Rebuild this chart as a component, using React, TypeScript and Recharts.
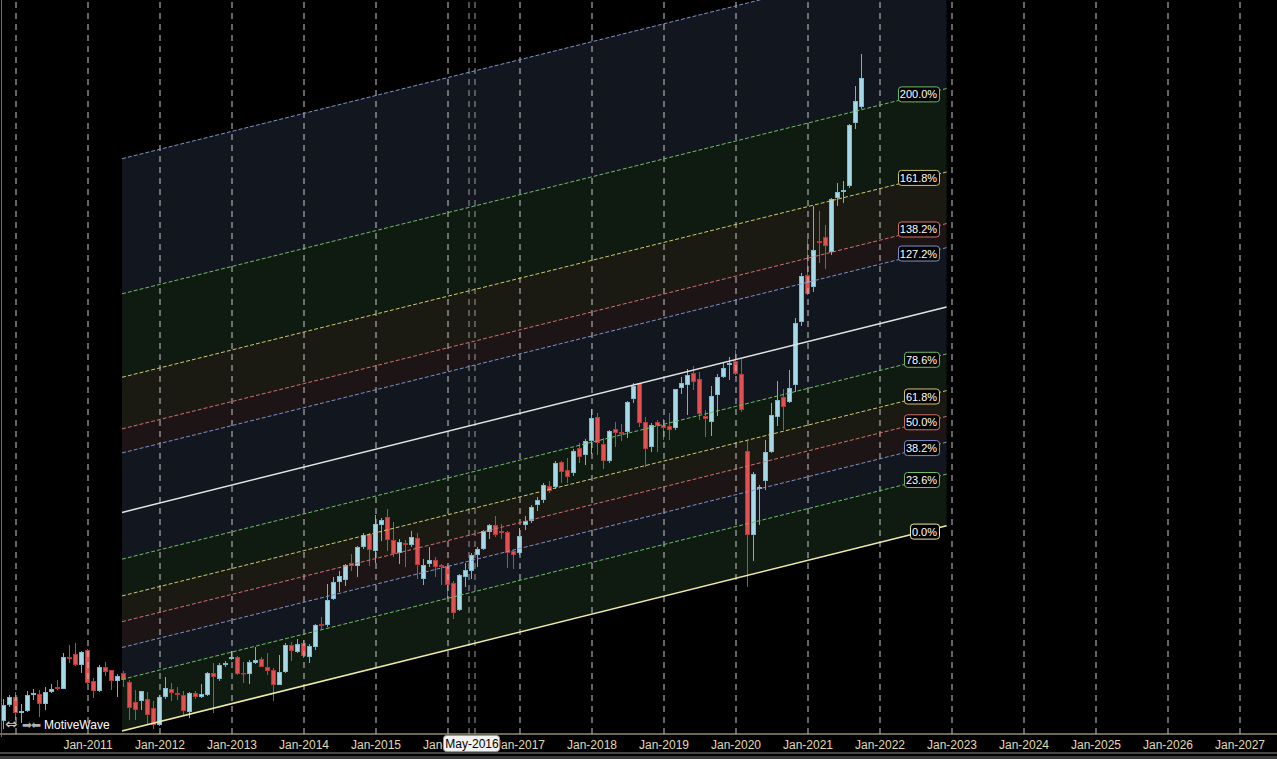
import React from "react";
import { ComposedChart, Bar, Area, XAxis, YAxis, ReferenceLine, ReferenceDot } from "recharts";

// Month index: 0 = Jan-2010, one unit per month. First candle = Nov-2009.
const FIRST_MONTH = -2;

const opens = [
  13, 29,
  37, 21, 23, 39, 40, 30, 42, 47, 45, 77, 80, 69,
  84, 53, 43, 67, 64, 53, 61, 52, 32, 33, 35, 26,
  9, 37, 45, 41, 39, 22, 41, 37, 39, 61, 55, 69,
  75, 77, 61, 60, 71, 75, 67, 64, 49, 62, 89, 82,
  91, 77, 87, 110, 109, 135, 152, 154, 171, 168, 187, 200,
  183, 209, 217, 194, 181, 191, 189, 196, 155, 170, 174, 169,
  168, 151, 124, 157, 163, 179, 185, 202, 209, 203, 202, 183,
  181, 209, 213, 229, 234, 248, 247, 272, 264, 261, 286, 279,
  293, 317, 290, 273, 305, 302, 302, 335, 351, 312, 287, 312,
  309, 308, 306, 346, 349, 361, 355, 318, 312, 339, 357, 369,
  373, 360, 283, 199, 245, 253, 282, 317, 337, 332, 349, 412,
  459, 447, 493, 497, 482, 536, 542, 548, 611, 627,
];
const highs = [
  35, 39,
  42, 30, 43, 45, 44, 47, 50, 54, 81, 89, 91, 83,
  85, 56, 69, 72, 64, 60, 63, 54, 44, 43, 42, 33,
  39, 57, 51, 47, 43, 42, 43, 50, 62, 71, 71, 73,
  83, 78, 72, 74, 87, 77, 81, 66, 79, 91, 92, 95,
  94, 90, 110, 117, 150, 157, 163, 170, 180, 188, 201, 201,
  219, 216, 225, 212, 195, 194, 203, 201, 175, 187, 177, 170,
  169, 153, 160, 171, 181, 187, 204, 210, 218, 210, 203, 184,
  206, 218, 229, 237, 251, 253, 273, 273, 276, 285, 291, 295,
  325, 321, 296, 304, 312, 310, 333, 351, 351, 317, 311, 314,
  315, 321, 345, 357, 365, 368, 362, 324, 348, 360, 372, 377,
  384, 375, 293, 262, 249, 294, 331, 353, 345, 364, 416, 461,
  495, 528, 523, 509, 536, 551, 553, 610, 648, 680,
];
const lows = [
  5, 27,
  14, 11, 22, 34, 17, 24, 41, 44, 45, 71, 68, 61,
  50, 36, 42, 58, 44, 37, 47, 14, 14, 24, 10, 5,
  8, 35, 33, 34, 19, 16, 35, 36, 38, 21, 53, 67,
  74, 59, 51, 50, 70, 67, 59, 33, 49, 61, 73, 81,
  76, 71, 84, 105, 107, 134, 142, 148, 163, 157, 185, 168,
  171, 193, 183, 177, 170, 167, 187, 155, 149, 167, 157, 149,
  135, 115, 123, 147, 155, 167, 184, 195, 197, 195, 166, 165,
  179, 204, 211, 223, 231, 241, 245, 251, 251, 258, 271, 269,
  280, 279, 265, 271, 287, 293, 296, 331, 307, 267, 282, 282,
  294, 294, 304, 340, 319, 344, 314, 297, 298, 318, 356, 354,
  359, 322, 147, 173, 209, 244, 281, 308, 304, 331, 342, 408,
  439, 442, 471, 465, 479, 528, 531, 546, 605, 625,
];
const closes = [
  29, 37,
  21, 23, 39, 41, 30, 42, 45, 45, 77, 75, 69, 82,
  51, 43, 67, 62, 53, 58, 54, 26, 24, 43, 19, 9,
  37, 46, 41, 39, 23, 41, 37, 40, 61, 57, 69, 71,
  77, 60, 60, 72, 74, 67, 63, 49, 62, 89, 83, 90,
  78, 88, 109, 108, 134, 152, 158, 169, 168, 187, 199, 184,
  210, 214, 194, 180, 192, 189, 197, 169, 169, 174, 167, 167,
  149, 121, 159, 164, 179, 185, 203, 209, 199, 201, 181, 179,
  198, 213, 227, 234, 249, 243, 271, 262, 257, 283, 277, 293,
  316, 291, 273, 303, 301, 300, 332, 348, 311, 285, 309, 308,
  306, 304, 345, 351, 359, 352, 320, 315, 338, 357, 366, 371,
  360, 324, 199, 260, 247, 282, 319, 334, 327, 346, 411, 458,
  440, 484, 491, 488, 535, 542, 544, 609, 633, 656,
];

// X axis
const gridMonths = [0, 12, 24, 36, 48, 60, 72, 84, 96, 108, 120, 132, 144, 156, 168, 180, 192, 204];
const tickMonths = [12, 24, 36, 48, 60, 72, 84, 96, 108, 120, 132, 144, 156, 168, 180, 192, 204];
const tickLabels = [
  "Jan-2011", "Jan-2012", "Jan-2013", "Jan-2014", "Jan-2015", "Jan-2016", "Jan-2017", "Jan-2018",
  "Jan-2019", "Jan-2020", "Jan-2021", "Jan-2022", "Jan-2023", "Jan-2024", "Jan-2025", "Jan-2026", "Jan-2027",
];
const crosshairMonth = 76;
const crosshairLabel = "May-2016";
const crosshairLines = [75.5, 76.5];

// Fibonacci channel
const channelStartMonth = 17.67;
const channelEndMonth = 155.1;
const baseStart = 3;
const baseEnd = 208.3;
const channelHeight = 218.6;
const fibLevels = [0, 0.236, 0.382, 0.5, 0.618, 0.786, 1, 1.272, 1.382, 1.618, 2, 2.618];
const fibLabels = ["0.0%", "23.6%", "38.2%", "50.0%", "61.8%", "78.6%", "", "127.2%", "138.2%", "161.8%", "200.0%", ""];
const labelMonth = 153.83;

const GREEN = "#6fbf64";
const BLUE = "#7d93cc";
const RED = "#d6706e";
const YELLOW = "#d2c86e";
const levelColors = ["#f1eba8", GREEN, BLUE, RED, YELLOW, GREEN, "#e4e4e4", BLUE, RED, YELLOW, GREEN, BLUE];
const levelSolid = [true, false, false, false, false, false, true, false, false, false, false, false];
const F_GREEN = "#0f1a11";
const F_BLUE = "#12161e";
const F_RED = "#1d1415";
const F_YELLOW = "#1a1912";
const bandColors = [F_GREEN, F_BLUE, F_RED, F_YELLOW, F_GREEN, F_BLUE, F_BLUE, F_RED, F_YELLOW, F_GREEN, F_BLUE];

const X_MIN = -16 / 6;
const X_MAX = (1277 - 16) / 6;

const UP_FILL = "#a6d9e8";
const UP_EDGE = "#78bcd6";
const UP_WICK = "#5cb8ea";
const DN_FILL = "#e44f4f";
const DN_EDGE = "#c23434";
const DN_WICK = "#ff2b2b";

const candles = opens.map((o, i) => ({
  m: FIRST_MONTH + i,
  open: o,
  high: highs[i],
  low: lows[i],
  close: closes[i],
}));

const baseAt = (m: number) =>
  baseStart + ((m - channelStartMonth) * (baseEnd - baseStart)) / (channelEndMonth - channelStartMonth);
const levelAt = (m: number, lvl: number) => baseAt(m) + lvl * channelHeight;

const bands = fibLevels.slice(0, -1).map((lvl, i) => ({
  color: bandColors[i],
  data: [
    { m: channelStartMonth, band: [levelAt(channelStartMonth, lvl), levelAt(channelStartMonth, fibLevels[i + 1])] },
    { m: channelEndMonth, band: [levelAt(channelEndMonth, lvl), levelAt(channelEndMonth, fibLevels[i + 1])] },
  ],
}));

const FONT = "'Liberation Sans', Arial, sans-serif";

const Candle = (props: any) => {
  const { x, y, width, height, payload } = props;
  if (x == null || y == null || !payload) return null;
  const top = Math.min(y, y + height);
  const h = Math.abs(height);
  const { open, close, high, low } = payload;
  const range = high - low;
  const toPx = (v: number) => (range === 0 ? top : top + ((high - v) / range) * h);
  const cx = Math.floor(x + width / 2);
  const up = close >= open;
  const bTop = toPx(Math.max(open, close));
  const bBot = toPx(Math.min(open, close));
  const bh = Math.max(1, bBot - bTop);
  return (
    <g>
      <rect x={cx} y={top} width={1} height={Math.max(1, h)} fill={up ? UP_WICK : DN_WICK} />
      <rect
        x={cx - 1.5}
        y={bTop + 0.5}
        width={4}
        height={Math.max(0.5, bh - 1)}
        fill={up ? UP_FILL : DN_FILL}
        stroke={up ? UP_EDGE : DN_EDGE}
        strokeWidth={1}
      />
    </g>
  );
};

const LevelTag = (props: any) => {
  const { cx, cy, text, color } = props;
  if (cx == null || cy == null) return null;
  const w = text.length * 6 + 5;
  return (
    <g>
      <rect x={cx - w + 0.5} y={cy - 3.5} width={w} height={15} rx={3} ry={3} fill="#000" stroke={color} strokeWidth={1} />
      <text x={cx - w / 2} y={cy + 8} textAnchor="middle" fill="#ffffff" fontSize={11} fontFamily={FONT}>
        {text}
      </text>
    </g>
  );
};

const AxisTick = (props: any) => {
  const { x, y, payload } = props;
  const v = payload?.value;
  if (v === crosshairMonth) {
    return (
      <g>
        <rect x={x - 28.5} y={y + 1.5} width={56} height={16} rx={3} ry={3} fill="#f2f2f2" stroke="#9a9a9a" />
        <text x={x} y={y + 14} textAnchor="middle" fill="#000" fontSize={12} fontFamily={FONT}>
          {crosshairLabel}
        </text>
      </g>
    );
  }
  const i = tickMonths.indexOf(v);
  if (i < 0) return null;
  return (
    <text x={x} y={y + 15} textAnchor="middle" fill="#e2dab2" fontSize={12} fontFamily={FONT}>
      {tickLabels[i]}
    </text>
  );
};

export default function App() {
  return (
    <div style={{ position: "fixed", left: 0, top: 0, width: 1277, height: 759, background: "#000", overflow: "hidden" }}>
      <ComposedChart width={1277} height={756} data={candles} margin={{ top: 0, right: 0, bottom: 0, left: 0 }}>
        <XAxis
          xAxisId="main"
          dataKey="m"
          type="number"
          domain={[X_MIN, X_MAX]}
          allowDataOverflow
          ticks={gridMonths}
          tick={false}
          tickLine={false}
          axisLine={{ stroke: "#8c8c84" }}
          height={3}
        />
        <XAxis
          xAxisId="lab"
          dataKey="m"
          type="number"
          domain={[X_MIN, X_MAX]}
          allowDataOverflow
          ticks={[...tickMonths, crosshairMonth]}
          interval={0}
          tick={<AxisTick />}
          tickLine={false}
          tickSize={0}
          tickMargin={0}
          axisLine={{ stroke: "#d8d0ac" }}
          height={19}
        />
        <YAxis hide domain={[0, 734]} allowDataOverflow type="number" />

        {bands.map((b, i) => (
          <Area
            key={"band" + i}
            xAxisId="main"
            data={b.data}
            dataKey="band"
            type="linear"
            stroke="none"
            fill={b.color}
            fillOpacity={1}
            dot={false}
            activeDot={false}
            isAnimationActive={false}
          />
        ))}

        {gridMonths.map((m) => (
          <ReferenceLine key={"g" + m} xAxisId="main" x={m} stroke="#c8c8c8" strokeDasharray="6 5" strokeWidth={1} />
        ))}
        {crosshairLines.map((m) => (
          <ReferenceLine key={"c" + m} xAxisId="main" x={m} stroke="#9a9a9a" strokeDasharray="6 5" strokeWidth={1} />
        ))}

        {fibLevels.map((lvl, i) => (
          <ReferenceLine
            key={"l" + i}
            xAxisId="main"
            ifOverflow="hidden"
            segment={[
              { x: channelStartMonth, y: levelAt(channelStartMonth, lvl) },
              { x: channelEndMonth, y: levelAt(channelEndMonth, lvl) },
            ]}
            stroke={levelColors[i]}
            strokeWidth={levelSolid[i] ? 1.5 : 1}
            strokeDasharray={levelSolid[i] ? undefined : "4 2"}
          />
        ))}

        <Bar
          xAxisId="main"
          dataKey={(d: any) => [d.low, d.high]}
          barSize={5}
          shape={<Candle />}
          isAnimationActive={false}
        />

        {fibLevels.map((lvl, i) =>
          fibLabels[i] ? (
            <ReferenceDot
              key={"t" + i}
              xAxisId="main"
              x={labelMonth}
              y={levelAt(labelMonth, lvl)}
              r={0}
              ifOverflow="visible"
              shape={(p: any) => <LevelTag cx={p.cx} cy={p.cy} text={fibLabels[i]} color={levelColors[i]} />}
            />
          ) : null
        )}
      </ComposedChart>
      <div style={{ position: "absolute", left: 1, top: 0, width: 1, height: 737, background: "#6c6c66" }} />
      <div style={{ position: "absolute", left: 0, top: 756, width: 1277, height: 3, background: "#3a3a3a" }} />
      <div
        style={{
          position: "absolute",
          left: 5,
          top: 716,
          height: 16,
          width: 110,
          fontFamily: FONT,
          color: "#ffffff",
          whiteSpace: "nowrap",
        }}
      >
        <span style={{ position: "absolute", left: 0, top: 0, color: "#c4c4c4", fontFamily: "'DejaVu Sans', sans-serif", fontSize: 15, lineHeight: "16px" }}>⇔</span>
        <span style={{ position: "absolute", left: 17, top: 1, color: "#b0b0b0", fontFamily: "'DejaVu Sans', sans-serif", fontSize: 12, lineHeight: "16px", letterSpacing: -1 }}>➡⬅</span>
        <span style={{ position: "absolute", left: 39, top: 1, fontSize: 12, lineHeight: "16px" }}>MotiveWave</span>
      </div>
    </div>
  );
}
